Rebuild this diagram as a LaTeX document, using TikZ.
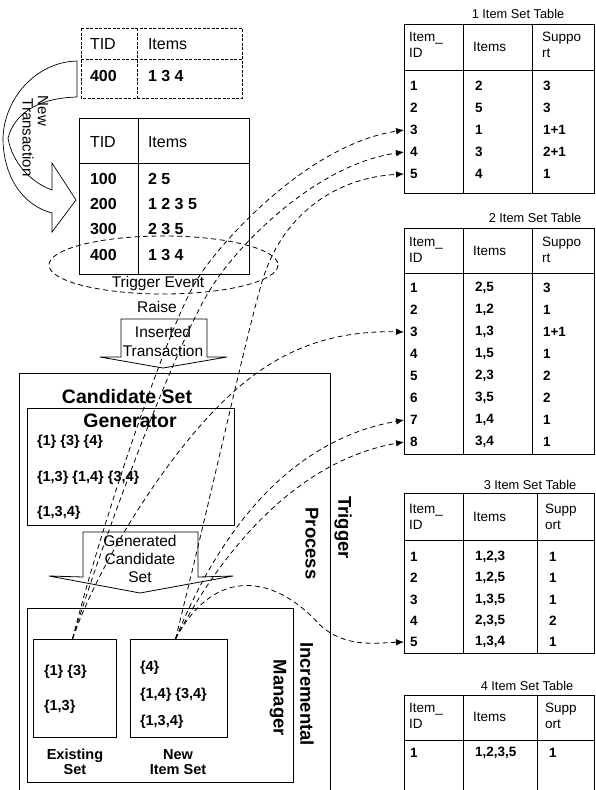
\documentclass[tikz,border=0pt]{standalone}
\usepackage{fontspec}
\setmainfont{Liberation Sans}
\usetikzlibrary{arrows.meta}
\newcommand{\tabrow}[6]{%
  \node[tid] (#1) at (404,#2) {#3};
  \node[tv] at (475,#2) {#4};
  \node[tv] at (#6,#2) {#5};}
\begin{document}
\begin{tikzpicture}[x=1pt,y=-1pt,
  every node/.style={inner sep=0pt,outer sep=0pt},
  ln/.style={line width=0.8pt},
  lt/.style={font=\fontsize{16}{19}\selectfont,anchor=west},
  lv/.style={font=\fontsize{16}{19}\selectfont\bfseries,anchor=west},
  th/.style={font=\fontsize{13.5}{16}\selectfont,anchor=west,align=left},
  tv/.style={font=\fontsize{13.5}{16}\selectfont\bfseries,anchor=west},
  tid/.style={tv,anchor=west,inner xsep=6pt},
  ttl/.style={font=\fontsize{12.8}{15}\selectfont},
  setv/.style={font=\fontsize{14.5}{17}\selectfont\bfseries,anchor=west},
  lbl/.style={font=\fontsize{15.5}{18}\selectfont,align=center},
  big/.style={font=\fontsize{19.5}{23}\selectfont\bfseries},
  vlbl/.style={font=\fontsize{18.5}{22}\selectfont\bfseries,rotate=-90},
  vsm/.style={font=\fontsize{15}{18}\selectfont,rotate=-90},
  dl/.style={line width=0.8pt,dash pattern=on 5pt off 3.5pt},
  link/.style={dl,-{Latex[length=8pt,width=6.5pt]}},
  sbox/.style={draw,ln,minimum width=#1,minimum height=98,anchor=north west},
]
\useasboundingbox (0,0) rectangle (595,790);
\begin{scope}
\clip (0,0) rectangle (595,790);

% ---------- new transaction table (dashed) ----------
\draw[line width=0.7pt,dash pattern=on 3pt off 1.5pt] (81,28) rectangle (242,98) (137,28) -- (137,98) (81,59) -- (242,59);
\node[lt] (ntid) at (90,44) {TID};
\node[lt] (nitems) at (148,44) {Items};
\node[lv] (n400) at (90,76) {400};
\node[lv] (n134) at (148,76) {1 3 4};

% ---------- curved "New Transaction" arrow ----------
\draw[line width=0.7pt] (77,61) .. controls (35,62) and (3,100) .. (3,140)
   .. controls (4,180) and (25,206) .. (52,213) -- (52,232) -- (76,200) -- (52,163) -- (52,190)
   .. controls (30,182) and (12,162) .. (8,138)
   .. controls (15,112) and (40,98) .. (77,97) -- cycle;
\node[vsm] (newl) at (43,111) {New};
\node[vsm] (transl) at (28,137.5) {Transaction};

% ---------- transaction table ----------
\draw[ln] (79,118) rectangle (249,274) (138,118) -- (138,274) (79,163) -- (249,163);
\node[lt] (ttid) at (90,142) {TID};
\node[lt] (titems) at (148,142) {Items};
\node[lv] at (90,179) {100};  \node[lv] at (148,179) {2 5};
\node[lv] at (90,204) {200};  \node[lv] at (148,204) {1 2 3 5};
\node[lv] at (90,229) {300};  \node[lv] at (148,229) {2 3 5};
\node[lv] at (90,255) {400};  \node[lv] at (148,255) {1 3 4};

% trigger event ellipse
\draw[dl] (163.5,265) ellipse [x radius=114.5, y radius=29];
\node[lbl] (tev) at (158,283) {Trigger Event};
\node[lbl] (raise) at (157,307) {Raise};

% inserted transaction arrow
\draw[ln] (121,357) -- (121,319) -- (207,319) -- (207,357) -- (227,357) -- (163,368) -- (100,357) -- cycle;
\node[lbl,font=\fontsize{15.5}{19}\selectfont] (ins) at (163,341.5) {Inserted\\Transaction};

% ---------- trigger process ----------
\draw[ln] (19,795) -- (19,373) -- (330,373) -- (330,795);
\node[vlbl] (trig) at (343,527.5) {Trigger};
\node[vlbl] (proc) at (312,543.5) {Process};

% candidate set generator
\draw[ln] (27,408) rectangle (234,525);
\node[big] (cs) at (127,397) {Candidate Set};
\node[big] (gen) at (130,421) {Generator};
\node[setv] at (37,442) {\{1\} \{3\} \{4\}};
\node[setv] at (37,478) {\{1,3\} \{1,4\} \{3,4\}};
\node[setv] at (37,513) {\{1,3,4\}};

% generated candidate set arrow
\draw[ln] (83,577) -- (83,532) -- (198,532) -- (198,577) -- (233,576) -- (140,593) -- (49,576) -- cycle;
\node[lbl] (gcs) at (140,559) {Generated\\Candidate\\Set};

% incremental manager
\draw[ln] (27,608) rectangle (293,782);
\node[vlbl] (incr) at (307,694) {Incremental};
\node[vlbl] (mgr) at (278,698) {Manager};
\node[sbox=83] (exset) at (33,639) {};
\node[sbox=97] (nwset) at (130,639) {};
\node[setv] at (44,672) {\{1\} \{3\}};
\node[setv] at (44,707) {\{1,3\}};
\node[setv] at (140,668) {\{4\}};
\node[setv] at (140,695) {\{1,4\} \{3,4\}};
\node[setv] at (140,722) {\{1,3,4\}};
\node[lbl,font=\fontsize{14.5}{15}\selectfont\bfseries] (exl) at (75,762) {Existing\\Set};
\node[lbl,font=\fontsize{14.5}{15}\selectfont\bfseries] (nwl) at (178,762) {New\\Item Set};

% ---------- 1 item set table ----------
\node[ttl] (ti1) at (518,14) {1 Item Set Table};
\draw[ln] (404,24) rectangle (594,193) (404,70) -- (594,70) (463,24) -- (463,193) (532,24) -- (532,193);
\node[th] at (409,45) {Item\_\\ID};
\node[th] at (473,47) {Items};
\node[th] at (542,45) {Suppo\\rt};
\tabrow{t1r1}{86}{1}{2}{3}{543}
\tabrow{t1r2}{108}{2}{5}{3}{543}
\tabrow{t1r3}{130}{3}{1}{1+1}{543}
\tabrow{t1r4}{152}{4}{3}{2+1}{543}
\tabrow{t1r5}{174}{5}{4}{1}{543}

% ---------- 2 item set table ----------
\node[ttl] (ti2) at (535,218) {2 Item Set Table};
\draw[ln] (404,228) rectangle (594,454) (404,273) -- (594,273) (463,228) -- (463,454) (532,228) -- (532,454);
\node[th] at (409,250) {Item\_\\ID};
\node[th] at (473,251) {Items};
\node[th] at (542,250) {Suppo\\rt};
\tabrow{t2r1}{288}{1}{2,5}{3}{543}
\tabrow{t2r2}{310}{2}{1,2}{1}{543}
\tabrow{t2r3}{332}{3}{1,3}{1+1}{543}
\tabrow{t2r4}{354}{4}{1,5}{1}{543}
\tabrow{t2r5}{376}{5}{2,3}{2}{543}
\tabrow{t2r6}{398}{6}{3,5}{2}{543}
\tabrow{t2r7}{420}{7}{1,4}{1}{543}
\tabrow{t2r8}{442}{8}{3,4}{1}{543}

% ---------- 3 item set table ----------
\node[ttl] (ti3) at (530,485) {3 Item Set Table};
\draw[ln] (404,493) rectangle (594,653) (404,540) -- (594,540) (463,493) -- (463,653) (537,493) -- (537,653);
\node[th] at (409,517) {Item\_\\ID};
\node[th] at (473,517) {Items};
\node[th] at (545,517) {Supp\\ort};
\tabrow{t3r1}{557}{1}{1,2,3}{1}{549}
\tabrow{t3r2}{578}{2}{1,2,5}{1}{549}
\tabrow{t3r3}{600}{3}{1,3,5}{1}{549}
\tabrow{t3r4}{621}{4}{2,3,5}{2}{549}
\tabrow{t3r5}{642}{5}{1,3,4}{1}{549}

% ---------- 4 item set table ----------
\node[ttl] (ti4) at (527,686) {4 Item Set Table};
\draw[ln] (404,800) -- (404,695) -- (594,695) -- (594,800) (404,740) -- (594,740) (463,695) -- (463,800) (537,695) -- (537,800);
\node[th] at (409,716) {Item\_\\ID};
\node[th] at (473,717) {Items};
\node[th] at (545,716) {Supp\\ort};
\tabrow{t4r1}{753}{1}{1,2,3,5}{1}{549}

% ---------- connectors ----------
\draw[link] ([xshift=-2pt]exset.north) .. controls (100,530) and (165,335) .. (195,283)
   .. controls (215,248) and (305,145) .. (t1r3.west);
\draw[link] ([xshift=-2pt]exset.north) .. controls (106,530) and (178,340) .. (210,290)
   .. controls (232,252) and (312,165) .. (t1r4.west);
\draw[link] ([xshift=-2pt]exset.north) .. controls (100,560) and (170,450) .. (230,395)
   .. controls (270,358) and (320,330) .. (t2r3.west);
\draw[link] ([xshift=-3pt]nwset.north) .. controls (215,480) and (245,340) .. (262,282)
   .. controls (280,220) and (330,178) .. (t1r5.west);
\draw[link] ([xshift=-3pt]nwset.north) .. controls (220,530) and (290,440) .. (t2r7.west);
\draw[link] ([xshift=-3pt]nwset.north) .. controls (225,545) and (300,460) .. (t2r8.west);
\draw[link] ([xshift=-3pt]nwset.north) .. controls (215,565) and (275,575) .. (320,625)
   .. controls (345,648) and (375,643) .. (t3r5.west);
\end{scope}
\end{tikzpicture}
\end{document}
